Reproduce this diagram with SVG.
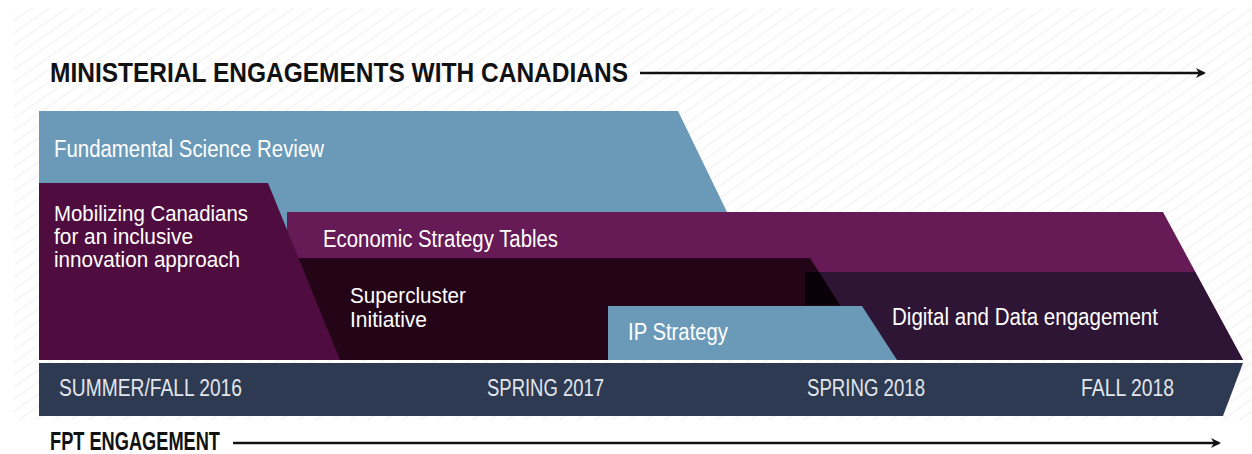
<svg xmlns="http://www.w3.org/2000/svg" width="1252" height="454" viewBox="0 0 1252 454">
  <defs>
    <!-- faint diagonal hatching behind the chart -->
    <pattern id="hatch" width="10" height="10" patternUnits="userSpaceOnUse" patternTransform="rotate(-35)">
      <line x1="0" y1="5" x2="10" y2="5" stroke="#f1f1f1" stroke-width="1.3"/>
    </pattern>
    <marker id="arrow" viewBox="0 0 10 10" refX="8" refY="5" markerWidth="4" markerHeight="4" orient="auto" markerUnits="strokeWidth">
      <path d="M0,0 L10,5 L0,10 L3,5 Z" fill="#111"/>
    </marker>
    <style>
      .heading { font-family: "Liberation Sans Narrow", "Liberation Sans", Arial, sans-serif; font-weight: bold; fill: #111; }
      .label { font-family: "Liberation Sans Narrow", "Liberation Sans", Arial, sans-serif; font-size: 23.5px; fill: #ffffff; }
      .stacked { font-size: 21.5px; }
      .period { font-family: "Liberation Sans Narrow", "Liberation Sans", Arial, sans-serif; font-size: 23px; fill: #e2e6ec; }
      .axis { stroke: #111; stroke-width: 2.5; fill: none; }
    </style>
  </defs>

  <rect x="0" y="0" width="1252" height="454" fill="#ffffff"/>
  <rect x="14" y="8" width="1238" height="412" fill="url(#hatch)"/>

  <!-- headings with their axis arrows -->
  <g id="ministerial-heading">
    <text class="heading" x="50" y="82" font-size="28" textLength="578" lengthAdjust="spacingAndGlyphs">MINISTERIAL ENGAGEMENTS WITH CANADIANS</text>
  </g>
  <g id="fpt-heading">
    <text class="heading" x="50" y="450" font-size="25" textLength="170" lengthAdjust="spacingAndGlyphs">FPT ENGAGEMENT</text>
  </g>

  <g id="connectors">
    <line class="axis" x1="640" y1="73" x2="1204" y2="73" marker-end="url(#arrow)"/>
    <line class="axis" x1="233" y1="443" x2="1219" y2="443" marker-end="url(#arrow)"/>
  </g>

  <!-- engagement bands, back to front -->
  <g id="fundamental-science-review">
    <polygon points="39,111 678,111 727,212 727,360 39,360" fill="#6b9ab9"/>
    <text class="label" x="54" y="157" textLength="270" lengthAdjust="spacingAndGlyphs">Fundamental Science Review</text>
  </g>

  <g id="economic-strategy-tables">
    <polygon points="287,212 1163,212 1243,360 287,360" fill="#661a56"/>
    <text class="label" x="323" y="247" textLength="235" lengthAdjust="spacingAndGlyphs">Economic Strategy Tables</text>
  </g>

  <g id="supercluster-initiative">
    <polygon points="290,258 810,258 875,360 290,360" fill="#230517"/>
    <text class="label stacked" x="350" y="303" textLength="116" lengthAdjust="spacingAndGlyphs">Supercluster</text>
    <text class="label stacked" x="350" y="327" textLength="77" lengthAdjust="spacingAndGlyphs">Initiative</text>
  </g>

  <g id="digital-and-data">
    <polygon points="819,272 1195,272 1243,360 875,360" fill="#2e1535"/>
    <polygon points="805,272 819,272 840,305 805,305" fill="#0a0007"/>
    <text class="label" x="892" y="325" textLength="266" lengthAdjust="spacingAndGlyphs">Digital and Data engagement</text>
  </g>

  <g id="ip-strategy">
    <polygon points="608,306 862,306 897,360 608,360" fill="#6b9ab9"/>
    <text class="label" x="628" y="340" textLength="100" lengthAdjust="spacingAndGlyphs">IP Strategy</text>
  </g>

  <g id="mobilizing-canadians">
    <polygon points="39,183 268,183 340,360 39,360" fill="#4f0d3f"/>
    <text class="label stacked" x="54" y="221" textLength="194" lengthAdjust="spacingAndGlyphs">Mobilizing Canadians</text>
    <text class="label stacked" x="54" y="244" textLength="139" lengthAdjust="spacingAndGlyphs">for an inclusive</text>
    <text class="label stacked" x="54" y="267" textLength="186" lengthAdjust="spacingAndGlyphs">innovation approach</text>
  </g>

  <!-- timeline bar -->
  <g id="timeline">
    <polygon points="39,363 1243,363 1223,416 39,416" fill="#2d3a52"/>
    <text class="period" x="59" y="396" textLength="183" lengthAdjust="spacingAndGlyphs">SUMMER/FALL 2016</text>
    <text class="period" x="487" y="396" textLength="117" lengthAdjust="spacingAndGlyphs">SPRING 2017</text>
    <text class="period" x="807" y="396" textLength="118" lengthAdjust="spacingAndGlyphs">SPRING 2018</text>
    <text class="period" x="1081" y="396" textLength="93" lengthAdjust="spacingAndGlyphs">FALL 2018</text>
  </g>
</svg>
